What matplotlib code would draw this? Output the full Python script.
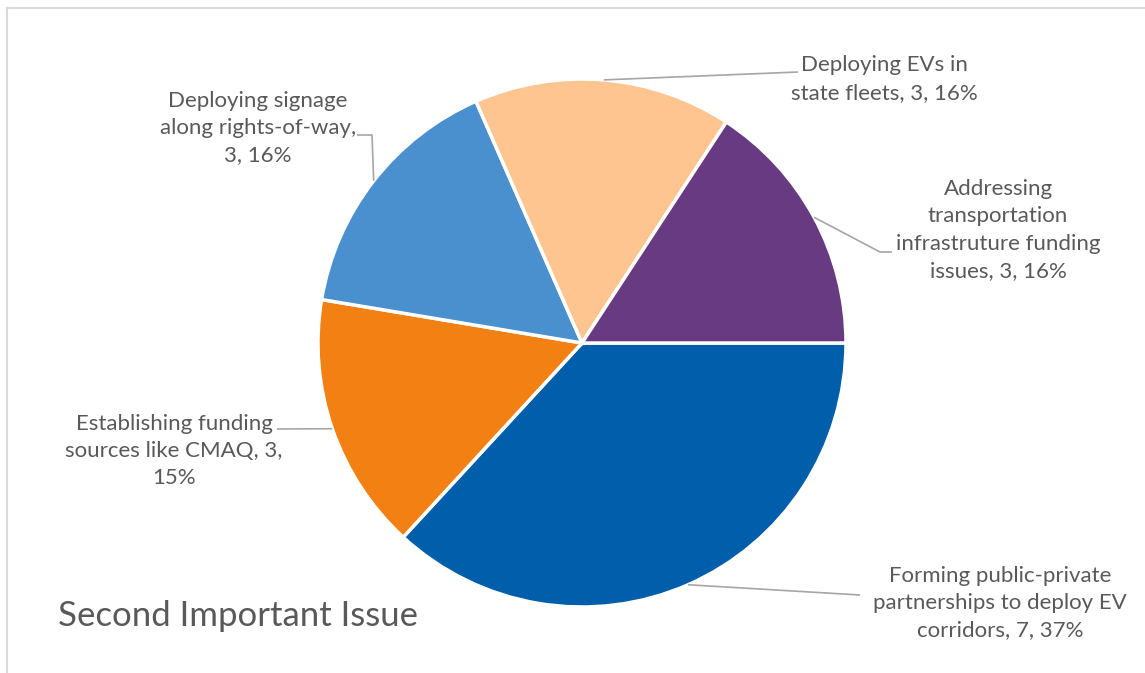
import matplotlib.pyplot as plt
import numpy as np
from matplotlib.lines import Line2D

plt.rcParams.update({
    "font.family": ["Lato", "DejaVu Sans"],
    "font.size": 16,
})

# data (clockwise from 3 o'clock)
categories = ["Forming public-private partnerships to deploy EV corridors",
              "Establishing funding sources like CMAQ",
              "Deploying signage along rights-of-way",
              "Deploying EVs in state fleets",
              "Addressing transportation infrastruture funding issues"]
counts = [7, 3, 3, 3, 3]
pct_text = ["37%", "15%", "16%", "16%", "16%"]

colors = ["#005EAA", "#F28012", "#4A90CE", "#FFC591", "#673A81"]
text_color = "#595959"

# data labels as wrapped in the chart
label_text = [
    "Forming public-private\npartnerships to deploy EV\ncorridors, {}, {}",
    "Establishing funding\nsources like CMAQ, {},\n{}",
    "Deploying signage\nalong rights-of-way,\n{}, {}",
    "Deploying EVs in\nstate fleets, {}, {}",
    "Addressing\ntransportation\ninfrastruture funding\nissues, {}, {}",
]
# label layout: text centre, leader path points (pixel coords, y down)
label_pos = [(1000, 603), (174, 451), (258, 128), (884, 79), (998, 230)]
leader_pts = [[(860, 595)], [(277, 429)], [(372, 135), (357, 135)],
              [(798, 72)], [(880, 252), (892, 252)]]

W, H = 1145, 673
cx, cy, r = 582, 343, 264

fig = plt.figure(figsize=(W / 100, H / 100), dpi=100)
ax = fig.add_axes([0, 0, 1, 1])

wedges, _ = ax.pie(counts, colors=colors, startangle=0, counterclock=False,
                   center=(cx, H - cy), radius=r,
                   wedgeprops=dict(edgecolor="white", linewidth=2.5))
ax.set_xlim(0, W)
ax.set_ylim(0, H)
ax.set_aspect("equal")
ax.axis("off")

for w, fmt, n, p, (tx, ty), pts in zip(wedges, label_text, counts, pct_text,
                                       label_pos, leader_pts):
    mid = np.deg2rad((w.theta1 + w.theta2) / 2)
    sx = cx + r * np.cos(mid)
    sy = H - cy + r * np.sin(mid)
    xs = [sx] + [q[0] for q in pts]
    ys = [sy] + [H - q[1] for q in pts]
    ax.plot(xs, ys, color="#A6A6A6", linewidth=1.2, solid_capstyle="butt")
    ax.text(tx, H - ty, fmt.format(n, p), ha="center", va="center",
            color=text_color, fontsize=16, linespacing=1.45)

ax.text(58, H - 626, "Second Important Issue", ha="left", va="baseline",
        color=text_color, fontsize=25)

# chart area border (left and top visible)
fig.add_artist(Line2D([7 / W, 7 / W], [0, 1 - 8 / H], transform=fig.transFigure,
                      color="#D9D9D9", linewidth=1.5))
fig.add_artist(Line2D([7 / W, 1], [1 - 8 / H, 1 - 8 / H], transform=fig.transFigure,
                      color="#D9D9D9", linewidth=1.5))

plt.savefig("out.png", dpi=100)
